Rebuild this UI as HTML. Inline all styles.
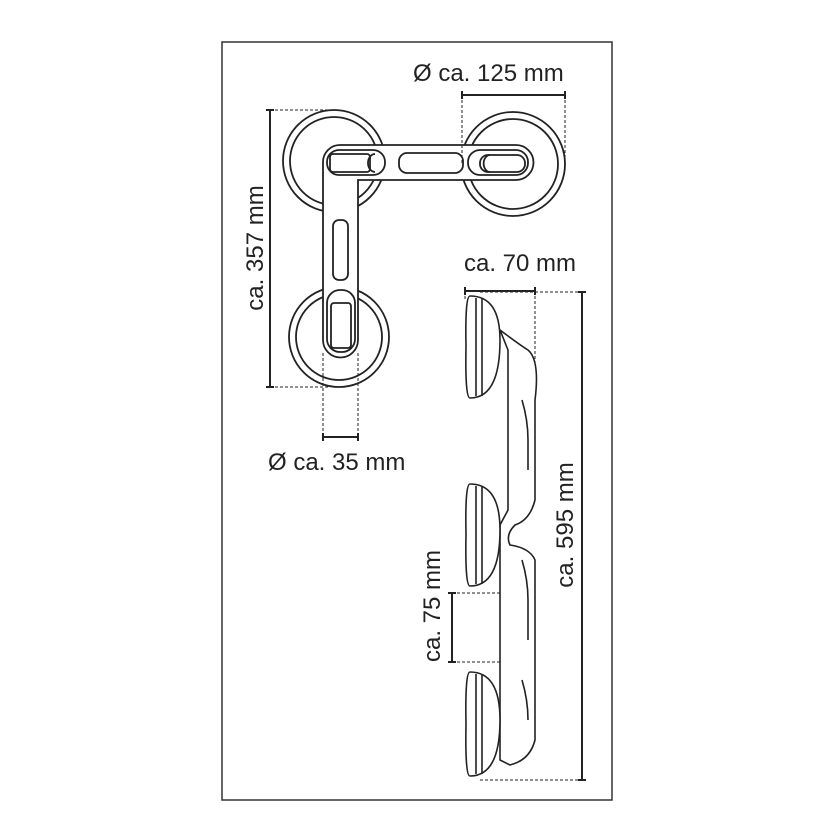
<!DOCTYPE html>
<html><head><style>
html,body{margin:0;padding:0;background:#fff;}
svg{display:block;}
text{font-family:"Liberation Sans",sans-serif;font-size:24px;fill:#222;}
</style></head><body>
<svg width="830" height="830" viewBox="0 0 830 830" xmlns="http://www.w3.org/2000/svg">
<rect x="222" y="42" width="390" height="758" fill="#fff" stroke="#333" stroke-width="1.5"/>
<g fill="#fff" stroke="#222" stroke-width="1.8">
<circle cx="334" cy="161" r="51"/><circle cx="334" cy="161" r="44"/>
<circle cx="513" cy="164" r="52"/><circle cx="513" cy="164" r="45"/>
<circle cx="339" cy="337" r="50"/><circle cx="339" cy="337" r="43"/>
<path d="M340 145 H516 a17.5 17.5 0 0 1 0 35 H358 V340 a17.5 17.5 0 0 1 -35 0 V162 a17 17 0 0 1 17 -17 Z"/>
<rect x="327" y="150" width="58" height="25" rx="12"/>
<rect x="330" y="154" width="40" height="18" rx="3"/>
<path d="M375 154 a7 9 0 0 0 0 18" fill="none"/>
<rect x="399" y="153" width="64" height="20" rx="8"/>
<rect x="468" y="150" width="60" height="25" rx="12"/>
<rect x="480" y="155" width="45" height="17" rx="8"/>
<path d="M490 155 a6 8 0 0 0 0 17" fill="none"/>
<rect x="333" y="220" width="15" height="60" rx="6"/>
<rect x="327" y="290" width="28" height="62" rx="13"/>
<rect x="331" y="303" width="20" height="45" rx="3"/>
</g>
<g stroke="#222" stroke-width="1" stroke-dasharray="3,2" fill="none">
<path d="M270 110 H330 M270 387 H330"/>
<path d="M462 95 V165 M565 95 V165"/>
<path d="M323 353 V437 M358 353 V437"/>
<path d="M465 291 V300 M535 291 V385"/>
<path d="M480 292 H582 M480 780 H582"/>
<path d="M452 593 H535 M452 662 H535"/>
</g>
<g stroke="#222" stroke-width="2" fill="none">
<path d="M270 110 V387 M266 110 H274 M266 387 H274"/>
<path d="M462 95 H565 M462 91 V99 M565 91 V99"/>
<path d="M323 437 H358 M323 433 V441 M358 433 V441"/>
<path d="M465 291 H535 M465 287 V295 M535 287 V295"/>
<path d="M582 292 V780 M578 292 H586 M578 780 H586"/>
<path d="M452 593 V662 M448 593 H456 M448 662 H456"/>
</g>
<g fill="#fff" stroke="#222" stroke-width="1.6">
<path d="M500 330 Q520 345 528 350 Q540 360 535 400 L535 500 Q530 520 515 525 Q505 535 510 545 Q530 548 535 560 L535 740 Q530 760 510 765 L500 760 L500 545 L500 525 L508 510 L508 350 Z"/>
<path d="M522 400 Q528 420 528 440 L528 470 M522 560 Q528 580 528 600 L528 640 M522 680 Q528 700 528 720"/>
<path d="M470 296 Q500 296 500 340 Q500 398 470 398 Q465 398 466 346 Q465 296 470 296 Z"/>
<path d="M476 298 V396 M482 298 V396"/>
<path d="M470 484 Q500 484 500 530 Q500 586 470 586 Q465 586 466 534 Q465 484 470 484 Z"/>
<path d="M476 486 V584 M482 486 V584"/>
<path d="M470 672 Q500 672 500 720 Q500 776 470 776 Q465 776 466 724 Q465 672 470 672 Z"/>
<path d="M476 674 V774 M482 674 V774"/>
</g>
<text x="413" y="81">Ø ca. 125 mm</text>
<text x="268" y="470">Ø ca. 35 mm</text>
<text x="464" y="271">ca. 70 mm</text>
<text transform="translate(263,248) rotate(-90)" text-anchor="middle">ca. 357 mm</text>
<text transform="translate(573,525) rotate(-90)" text-anchor="middle">ca. 595 mm</text>
<text transform="translate(440,606) rotate(-90)" text-anchor="middle">ca. 75 mm</text>
</svg>
</body></html>
